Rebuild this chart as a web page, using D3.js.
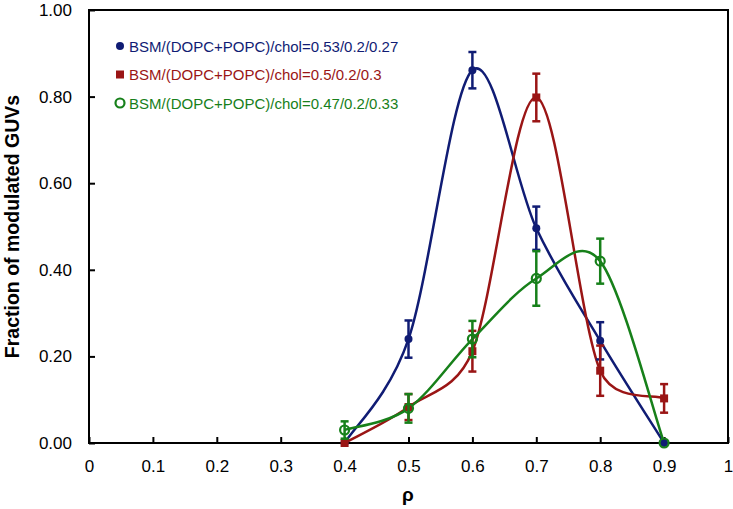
<!DOCTYPE html>
<html><head><meta charset="utf-8">
<script src="https://cdn.jsdelivr.net/npm/d3@7"></script>
<style>body{margin:0;background:#fff}svg{display:block}</style>
</head><body>
<script>
const xValues = [0.4, 0.5, 0.6, 0.7, 0.8, 0.9];
const blueValues = [0, 0.24, 0.861, 0.496, 0.236, 0];
const blueErrors = [0, 0.043, 0.042, 0.05, 0.043, 0];
const redValues = [0, 0.083, 0.212, 0.798, 0.167, 0.103];
const redErrors = [0, 0.03, 0.047, 0.055, 0.058, 0.033];
const greenValues = [0.03, 0.08, 0.24, 0.38, 0.42, 0];
const greenErrors = [0.02, 0.033, 0.042, 0.063, 0.052, 0];
const seriesNames = ["BSM/(DOPC+POPC)/chol=0.53/0.2/0.27","BSM/(DOPC+POPC)/chol=0.5/0.2/0.3","BSM/(DOPC+POPC)/chol=0.47/0.2/0.33"];
const xTicks = [0,0.1,0.2,0.3,0.4,0.5,0.6,0.7,0.8,0.9,1];
const yTicks = [0,0.2,0.4,0.6,0.8,1.0];

const W=733,H=509;
const L=89,R=728,T=10,B=443;
const svg=d3.select("body").append("svg").attr("width",W).attr("height",H);
const x=d3.scaleLinear().domain([0,1]).range([L,R]);
const y=d3.scaleLinear().domain([0,1]).range([B,T]);
const font="Liberation Sans, Arial, sans-serif";

const series=[
 {name:seriesNames[0],vals:blueValues,errs:blueErrors,color:"#101c74",marker:"dot"},
 {name:seriesNames[1],vals:redValues,errs:redErrors,color:"#9a1515",marker:"square"},
 {name:seriesNames[2],vals:greenValues,errs:greenErrors,color:"#17801a",marker:"circle"}
];

// axes
const gx=svg.append("g").attr("transform",`translate(0,${B})`)
 .call(d3.axisBottom(x).tickValues(xTicks).tickSizeInner(-6).tickSizeOuter(0).tickPadding(17).tickFormat(d=>d3.format("")(+d.toFixed(1))));
const gy=svg.append("g").attr("transform",`translate(${L},0)`)
 .call(d3.axisLeft(y).tickValues(yTicks).tickSizeInner(-6).tickSizeOuter(0).tickPadding(17).tickFormat(d3.format(".2f")));
[gx,gy].forEach(g=>{
 g.select(".domain").remove();
 g.selectAll(".tick line").attr("stroke","#000").attr("stroke-width",2);
 g.selectAll("text").attr("font-family",font).attr("font-size",17).attr("fill","#000");
});
// frame
svg.append("rect").attr("x",L).attr("y",T).attr("width",R-L).attr("height",B-T)
 .attr("fill","none").attr("stroke","#000").attr("stroke-width",2);

// Excel-style smoothed line (Bezier with limited control arms), built on d3.path
function smoothPath(pts){
 const p=d3.path();
 const dist=(a,b)=>Math.hypot(b[0]-a[0],b[1]-a[1]);
 p.moveTo(pts[0][0],pts[0][1]);
 for(let i=0;i<pts.length-1;i++){
  const p0=pts[Math.max(i-1,0)],p1=pts[i],p2=pts[i+1],p3=pts[Math.min(i+2,pts.length-1)];
  const d02=dist(p0,p2),d12=dist(p1,p2),d13=dist(p1,p3);
  let f=1/6,g=1/6;
  if(d02/6>=d12/2&&d02>0) f=d12/2/d02;
  if(d13/6>=d12/2&&d13>0) g=d12/2/d13;
  const c1=[p1[0]+f*(p2[0]-p0[0]),p1[1]+f*(p2[1]-p0[1])];
  const c2=[p2[0]-g*(p3[0]-p1[0]),p2[1]-g*(p3[1]-p1[1])];
  p.bezierCurveTo(c1[0],c1[1],c2[0],c2[1],p2[0],p2[1]);
 }
 return p.toString();
}
series.forEach(s=>{
 const pts=xValues.map((v,i)=>[x(v),y(s.vals[i])]);
 svg.append("path").attr("d",smoothPath(pts)).attr("fill","none").attr("stroke",s.color).attr("stroke-width",2.5);
});
// error bars + markers
series.forEach(s=>{
 const g=svg.append("g");
 xValues.forEach((v,i)=>{
  const e=s.errs[i];
  if(e>0){
   const cx=x(v),y1=y(s.vals[i]+e),y2=y(s.vals[i]-e);
   g.append("line").attr("x1",cx).attr("x2",cx).attr("y1",y1).attr("y2",y2).attr("stroke",s.color).attr("stroke-width",2.5);
   [y1,y2].forEach(yy=>g.append("line").attr("x1",cx-4).attr("x2",cx+4).attr("y1",yy).attr("y2",yy).attr("stroke",s.color).attr("stroke-width",2.5));
  }
  drawMarker(g,s,x(v),y(s.vals[i]));
 });
});
function drawMarker(g,s,cx,cy){
 if(s.marker==="dot") g.append("circle").attr("cx",cx).attr("cy",cy).attr("r",4).attr("fill",s.color);
 else if(s.marker==="square") g.append("rect").attr("x",cx-4).attr("y",cy-4).attr("width",8).attr("height",8).attr("fill",s.color);
 else g.append("circle").attr("cx",cx).attr("cy",cy).attr("r",4.5).attr("fill","none").attr("stroke",s.color).attr("stroke-width",2.2);
}
// legend
series.forEach((s,i)=>{
 const ly=46+i*28.5;
 drawMarker(svg,s,120,ly);
 svg.append("text").attr("x",129).attr("y",ly+5.5).attr("font-family",font).attr("font-size",15).attr("fill",s.color).text(s.name);
});
// axis titles
svg.append("text").attr("x",408).attr("y",501).attr("text-anchor","middle").attr("font-family",font).attr("font-weight","bold").attr("font-size",19).text("ρ");
svg.append("text").attr("transform",`translate(19,${(T+B)/2}) rotate(-90)`).attr("text-anchor","middle").attr("font-family",font).attr("font-weight","bold").attr("font-size",19.5).text("Fraction of modulated GUVs");
</script>
</body></html>
